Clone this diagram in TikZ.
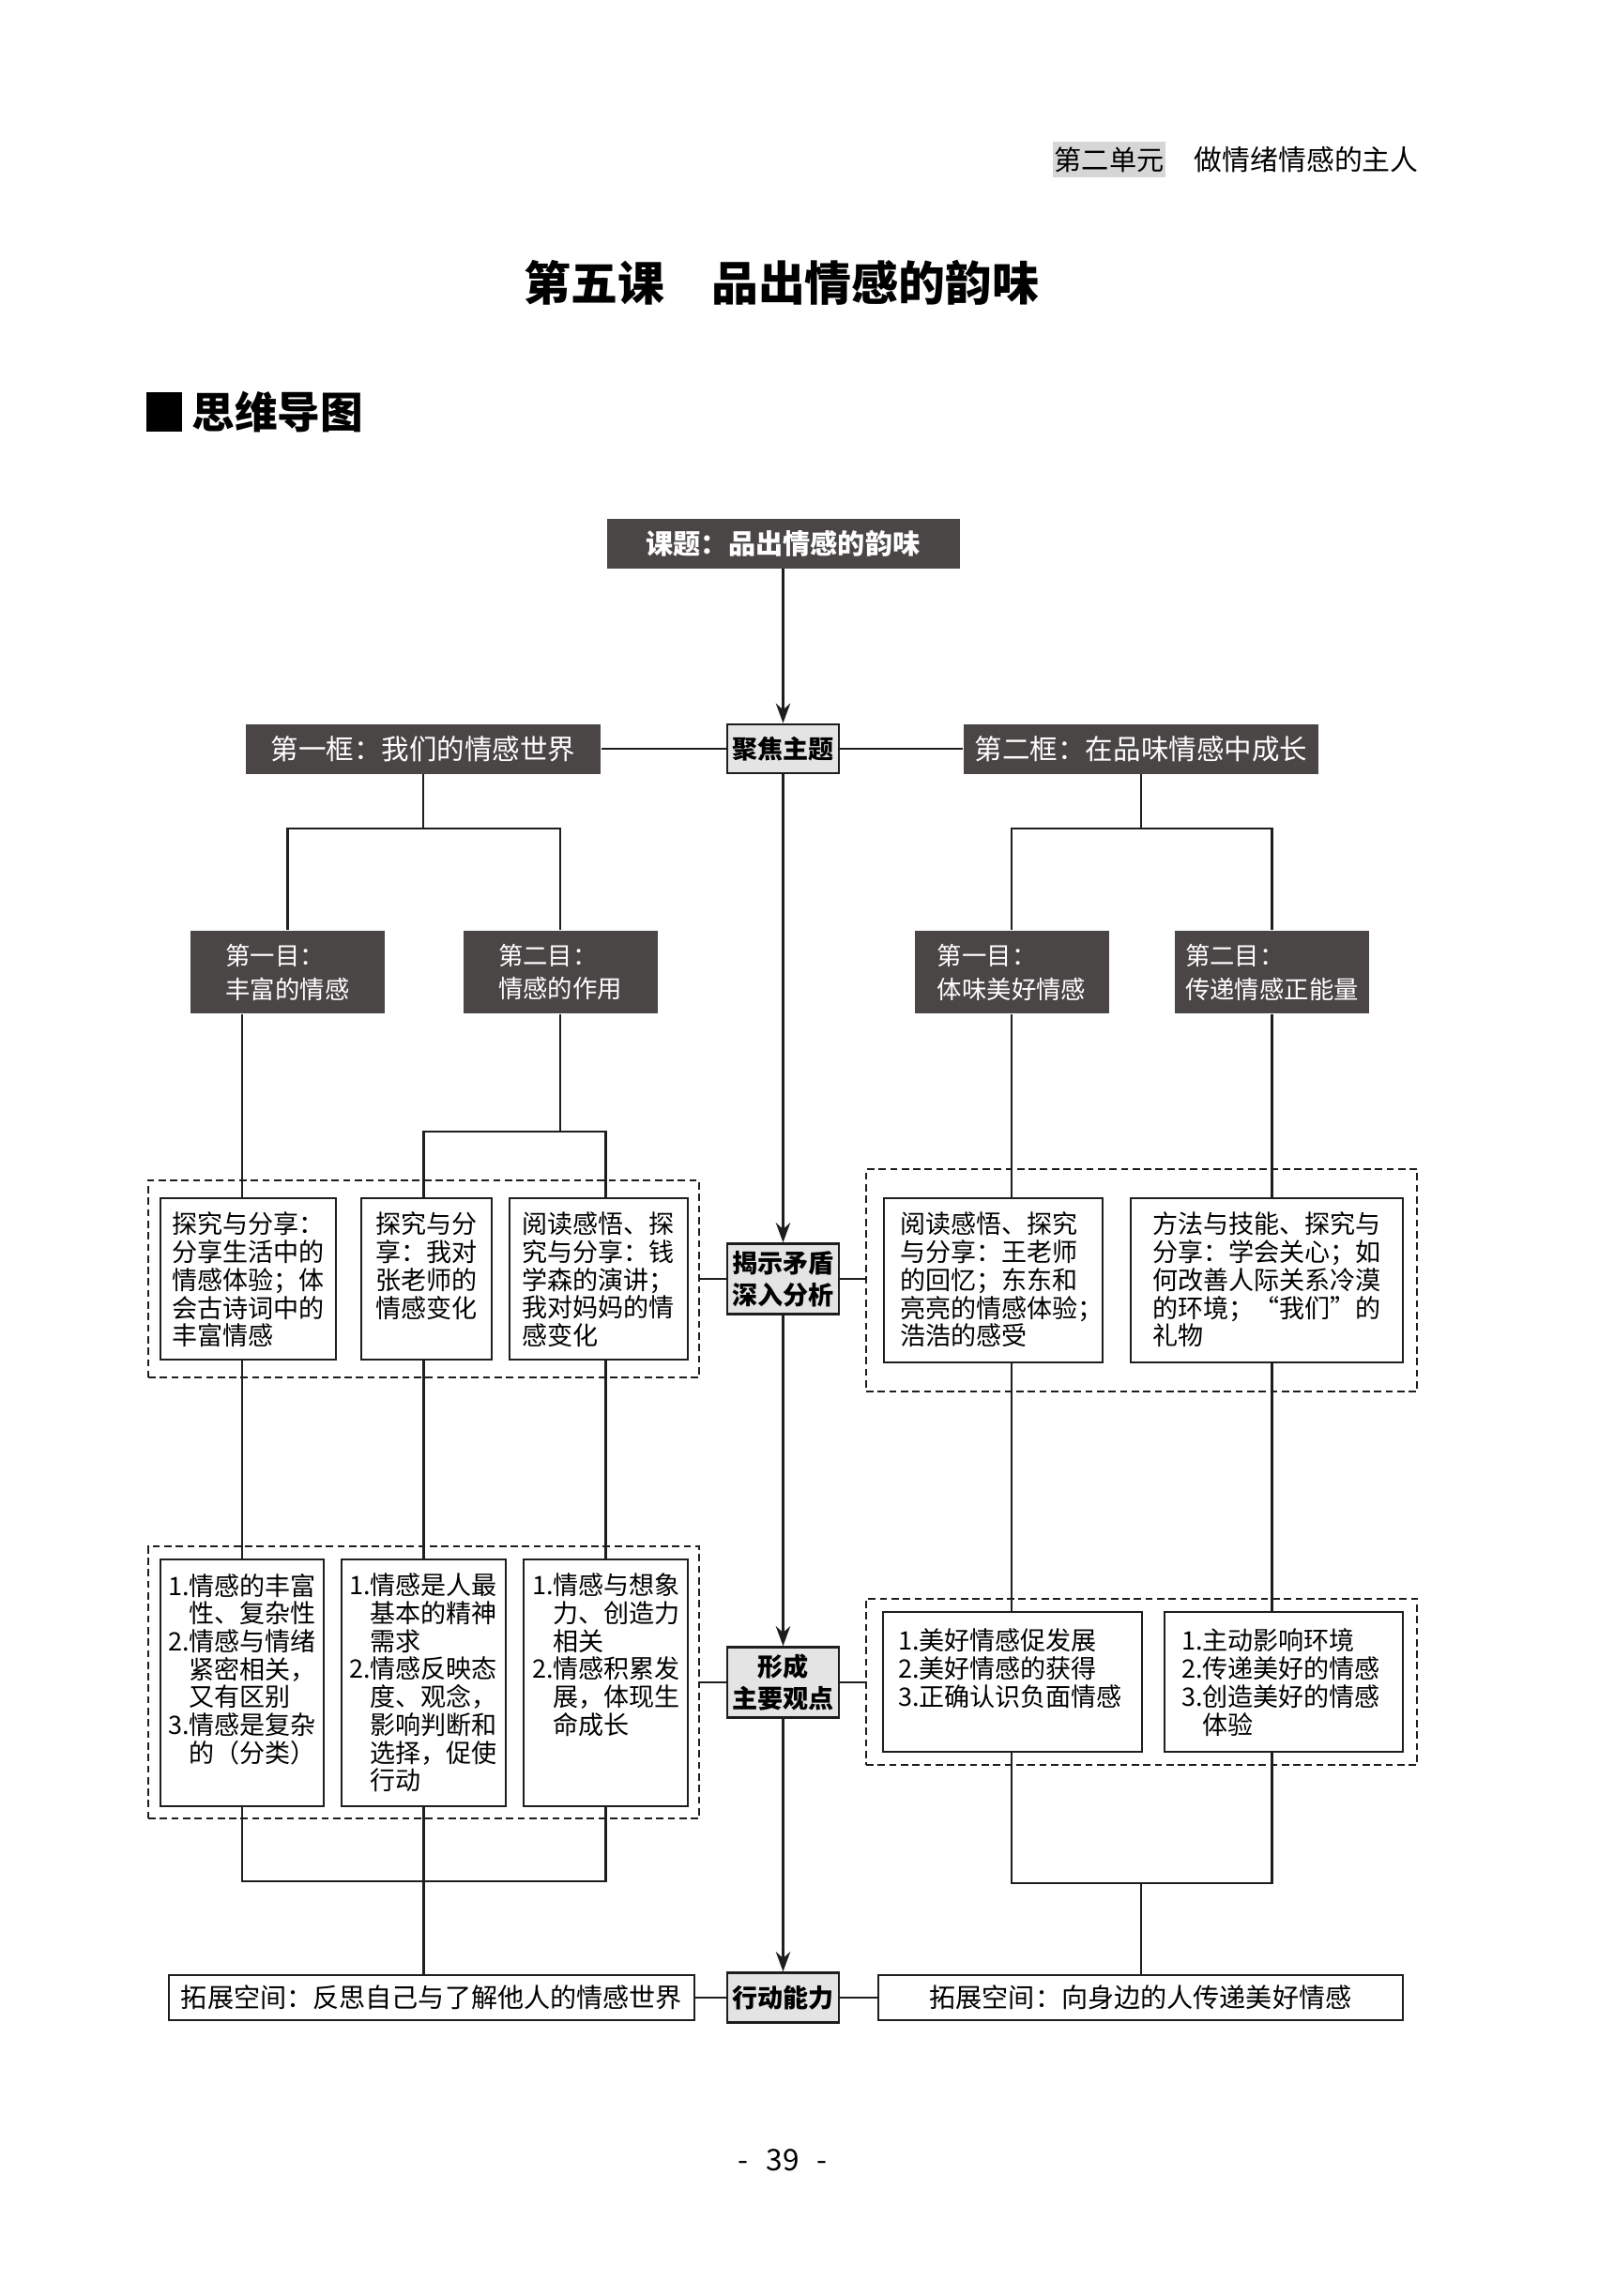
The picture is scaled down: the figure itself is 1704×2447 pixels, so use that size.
\documentclass[tikz,border=0pt]{standalone}
\usepackage{fontspec}
\setmainfont{Noto Sans CJK SC}
\usetikzlibrary{arrows.meta,positioning}
\definecolor{boxdark}{RGB}{74,70,70}
\definecolor{boxlight}{RGB}{228,228,228}
\definecolor{unitgray}{RGB}{214,214,214}
\definecolor{linedark}{RGB}{30,30,30}
\newcommand{\cellpar}[3]{\parbox[t][#2][t]{#1}{#3}}
\newcommand{\hang}{\hphantom{1.}}

\begin{document}
\begin{tikzpicture}[x=0.1mm, y=-0.1mm,
  topicbox/.style={
    rectangle, fill=boxdark, text=white, inner sep=0pt,
    minimum width=37.6mm, minimum height=5.3mm,
    font=\bfseries\fontsize{8.3}{10}\selectfont
  },
  framebox/.style={
    rectangle, fill=boxdark, text=white, inner sep=0pt,
    minimum width=37.8mm, minimum height=5.3mm,
    font=\fontsize{8.4}{10}\selectfont
  },
  itembox/.style={
    rectangle, fill=boxdark, text=white, inner sep=0pt,
    minimum width=20.7mm, minimum height=8.8mm,
    align=left, font=\fontsize{7.5}{10.2}\selectfont
  },
  stagebox/.style={
    rectangle, draw=linedark, line width=0.75pt, fill=boxlight,
    inner sep=0pt, minimum width=11.9mm, minimum height=7.5mm,
    align=center, font=\bfseries\fontsize{7.7}{9.7}\selectfont
  },
  groupbox/.style={
    rectangle, draw=linedark, line width=0.55pt,
    dash pattern=on 2.2pt off 1.3pt, inner sep=0pt
  },
  cell/.style={
    rectangle, draw=linedark, line width=0.7pt, fill=white,
    inner ysep=1.5mm, font=\fontsize{7.7}{8.45}\selectfont
  },
  extbox/.style={
    rectangle, draw=linedark, line width=0.75pt, fill=white,
    inner sep=0pt, minimum height=4.8mm,
    font=\fontsize{8}{10}\selectfont
  },
  link/.style={draw=linedark, line width=0.6pt},
  conn/.style={-{Stealth[length=6pt, width=4.4pt]}, draw=linedark, line width=0.6pt}
]
\useasboundingbox (0,0) rectangle (1704,2447);

\node[fill=unitgray, inner xsep=0.2mm, inner ysep=0.55mm, font=\fontsize{8.3}{10}\selectfont] (unit) at (1182,170) {第二单元};
\node[anchor=west, inner sep=0pt, font=\fontsize{8.5}{10}\selectfont] (unitname) at (1272,170) {做情绪情感的主人};

\node[font=\bfseries\fontsize{14.2}{16}\selectfont] (title) at (833,301) {第五课　品出情感的韵味};

\node[fill=black, inner sep=0pt, minimum width=3.8mm, minimum height=4.2mm] (secmark) at (175,439) {};
\node[inner sep=0pt, right=0.9mm of secmark, font=\bfseries\fontsize{13}{15}\selectfont] (sectitle) {思维导图};

\node[topicbox] (topic) at (834.5,579) {课题：品出情感的韵味};
\node[stagebox, minimum height=5.2mm] (focus) at (834.5,798) {聚焦主题};
\node[framebox] (frame1) at (451,798) {第一框：我们的情感世界};
\node[framebox] (frame2) at (1216,798) {第二框：在品味情感中成长};

\node[itembox] (item1) at (306.5,1036) {第一目：\\丰富的情感};
\node[itembox] (item2) at (597,1036) {第二目：\\情感的作用};
\node[itembox] (item3) at (1078,1036) {第一目：\\体味美好情感};
\node[itembox] (item4) at (1355.5,1036) {第二目：\\传递情感正能量};

\node[groupbox, minimum width=58.7mm, minimum height=21mm] (grpA) at (451.5,1363) {};
\node[groupbox, minimum width=58.7mm, minimum height=23.7mm] (grpC) at (1216.5,1364.5) {};
\node[groupbox, minimum width=58.7mm, minimum height=29mm] (grpB) at (451.5,1793) {};
\node[groupbox, minimum width=58.7mm, minimum height=17.7mm] (grpD) at (1216.5,1792.5) {};

\node[cell, inner xsep=1.2mm] (a1) at (264.5,1363)
  {\cellpar{16.3mm}{14.2mm}{探究与分享：\\分享生活中的\\情感体验；体\\会古诗词中的\\丰富情感}};
\node[cell, inner xsep=1.5mm] (a2) at (454.5,1363)
  {\cellpar{10.9mm}{14.2mm}{探究与分\\享：我对\\张老师的\\情感变化}};
\node[cell, inner xsep=1.3mm] (a3) at (638,1363)
  {\cellpar{16.4mm}{14.2mm}{阅读感悟、探\\究与分享：钱\\学森的演讲；\\我对妈妈的情\\感变化}};
\node[cell, inner xsep=1.7mm] (c1) at (1058.5,1364.5)
  {\cellpar{19.9mm}{14.5mm}{阅读感悟、探究\\与分享：王老师\\的回忆；东东和\\亮亮的情感体验；\\浩浩的感受}};
\node[cell, inner xsep=2.3mm] (c2) at (1350,1364.5)
  {\cellpar{24.4mm}{14.5mm}{方法与技能、探究与\\分享：学会关心；如\\何改善人际关系冷漠\\的环境；“我们”的\\礼物}};

\node[cell, inner xsep=0.8mm] (b1) at (258,1793.5)
  {\cellpar{15.8mm}{23.3mm}{1.情感的丰富\\\hang 性、复杂性\\2.情感与情绪\\\hang 紧密相关，\\\hang 又有区别\\3.情感是复杂\\\hang 的（分类）}};
\node[cell, inner xsep=0.8mm] (b2) at (451.5,1793.5)
  {\cellpar{15.9mm}{23.3mm}{1.情感是人最\\\hang 基本的精神\\\hang 需求\\2.情感反映态\\\hang 度、观念，\\\hang 影响判断和\\\hang 选择，促使\\\hang 行动}};
\node[cell, inner xsep=0.9mm] (b3) at (645.5,1793.5)
  {\cellpar{15.7mm}{23.3mm}{1.情感与想象\\\hang 力、创造力\\\hang 相关\\2.情感积累发\\\hang 展，体现生\\\hang 命成长}};
\node[cell, inner xsep=1.6mm, inner ysep=1.8mm] (d1) at (1079,1792.5)
  {\cellpar{24.4mm}{11.3mm}{1.美好情感促发展\\2.美好情感的获得\\3.正确认识负面情感}};
\node[cell, inner xsep=1.8mm, inner ysep=1.8mm] (d2) at (1368,1792.5)
  {\cellpar{21.8mm}{11.3mm}{1.主动影响环境\\2.传递美好的情感\\3.创造美好的情感\\\hang 体验}};

\node[stagebox] (analyse) at (834.5,1363) {揭示矛盾\\深入分析};
\node[stagebox] (views) at (834.5,1793) {形成\\主要观点};
\node[stagebox, minimum height=5.3mm] (action) at (834.5,2129) {行动能力};
\node[extbox, minimum width=56mm] (ext1) at (460,2129) {拓展空间：反思自己与了解他人的情感世界};
\node[extbox, minimum width=55.9mm] (ext2) at (1215.5,2129) {拓展空间：向身边的人传递美好情感};

\node[font=\fontsize{9}{10}\selectfont] (pagenum) at (834,2302) {-\hspace{0.6em}39\hspace{0.6em}-};

\coordinate (split1) at (451,883);
\coordinate (split2) at (1216,883);
\coordinate (split3) at (597,1206);
\coordinate (joinL) at (451.5,2005);
\coordinate (joinR) at (1216,2007);

\draw[conn] (topic) -- (focus);
\draw[link] (frame1) -- (focus);
\draw[link] (focus) -- (frame2);
\draw[conn] (focus) -- (analyse);
\draw[conn] (analyse) -- (views);
\draw[conn] (views) -- (action);

\draw[link] (frame1.south) -- (split1);
\draw[link] (item1.north) |- (split1) -| (item2.north);
\draw[link] (frame2.south) -- (split2);
\draw[link] (item3.north) |- (split2) -| (item4.north);

\draw[link] (item1.south -| b1.north) -- (a1.north -| b1.north);
\draw[link] (item2.south) -- (split3);
\draw[link] (a2.north -| b2.north) |- (split3) -| (a3.north -| b3.north);
\draw[link] (item3.south) -- (c1.north -| item3.south);
\draw[link] (item4.south) -- (c2.north -| item4.south);

\draw[link] (a1.south -| b1.north) -- (b1.north);
\draw[link] (a2.south -| b2.north) -- (b2.north);
\draw[link] (a3.south -| b3.north) -- (b3.north);
\draw[link] (c1.south -| item3.south) -- (d1.north -| item3.south);
\draw[link] (c2.south -| item4.south) -- (d2.north -| item4.south);

\draw[link] (grpA.east |- analyse.west) -- (analyse.west);
\draw[link] (analyse.east) -- (analyse.east -| grpC.west);
\draw[link] (grpB.east |- views.west) -- (views.west);
\draw[link] (views.east) -- (views.east -| grpD.west);

\draw[link] (b1.south) |- (joinL) -| (b3.south);
\draw[link] (b2.south) -- (b2.south |- ext1.north);
\draw[link] (d1.south -| item3.south) |- (joinR) -| (d2.south -| item4.south);
\draw[link] (joinR) -- (joinR |- ext2.north);

\draw[link] (ext1) -- (action);
\draw[link] (action) -- (ext2);
\end{tikzpicture}
\end{document}
